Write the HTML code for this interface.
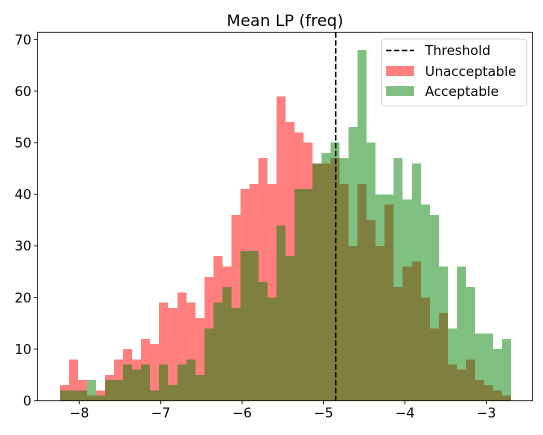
<!DOCTYPE html>
<html><head><meta charset="utf-8"><style>
html,body{margin:0;padding:0;background:#fff;}
svg{display:block;font-family:"DejaVu Sans","Liberation Sans",sans-serif;}
#bars rect{shape-rendering:crispEdges;}
</style></head><body>
<svg id="chart" width="543" height="435" viewBox="0 0 543 435" xmlns="http://www.w3.org/2000/svg">
<text x="285" y="26" font-size="16" text-anchor="middle" fill="#000">Mean LP (freq)</text>
<g id="bars"></g>
<g id="axes"></g>
</svg>
<script>
const binStart = -8.237;
const binWidth = 0.1108;
const unacceptable = [3,8,4,1,2,5,8,10,8,12,11,19,18,21,19,16,24,28,26,36,41,42,47,42,59,54,52,50,46,46,47,42,30,42,35,30,38,22,26,27,20,14,17,7,6,8,4,3,2,1];
const acceptable = [2,2,2,4,1,4,4,7,6,7,2,7,3,7,8,5,14,19,22,18,29,29,23,20,34,28,41,41,46,48,50,47,53,68,50,40,40,47,39,46,38,36,26,14,26,22,13,13,10,12];
const threshold = -4.85;
const xTicks = [-8,-7,-6,-5,-4,-3];
const yTicks = [0,10,20,30,40,50,60,70];

const L=37.5,R=532.5,T=32.3,B=400.7;
const X = v => 79.3 + (v + 8) * 81.4;
const Y = v => B - v * 5.16;
const NS="http://www.w3.org/2000/svg";
function mk(tag, attrs, parent){const e=document.createElementNS(NS,tag);for(const k in attrs)e.setAttribute(k,attrs[k]);parent.appendChild(e);return e;}
const bars=document.getElementById('bars'), axes=document.getElementById('axes');

unacceptable.forEach((h,i)=>{
  const x0=X(binStart+i*binWidth), x1=X(binStart+(i+1)*binWidth);
  const r=mk('rect',{x:x0,y:Y(h),width:x1-x0,height:B-Y(h),fill:'#ff0000','fill-opacity':0.5},bars);
  
  
});
acceptable.forEach((h,i)=>{
  const x0=X(binStart+i*binWidth), x1=X(binStart+(i+1)*binWidth);
  const r=mk('rect',{x:x0,y:Y(h),width:x1-x0,height:B-Y(h),fill:'#008000','fill-opacity':0.5},bars);
  
  
});
const th=mk('line',{x1:X(threshold),x2:X(threshold),y1:T,y2:B,stroke:'#000','stroke-width':1.5,'stroke-dasharray':'5.5,2.4'},bars);



const frame=mk('rect',{x:L,y:T,width:R-L,height:B-T,fill:'none',stroke:'#000','stroke-width':0.8},axes);



xTicks.forEach(v=>{
  mk('line',{x1:X(v),x2:X(v),y1:B,y2:B+3.5,stroke:'#000','stroke-width':0.8},axes);
  const t=mk('text',{x:X(v),y:B+17,'font-size':13.3,'text-anchor':'middle',fill:'#000'},axes);
  t.textContent='\u2212'+Math.abs(v);
  
  
});
yTicks.forEach(v=>{
  mk('line',{x1:L,x2:L-3.5,y1:Y(v),y2:Y(v),stroke:'#000','stroke-width':0.8},axes);
  const t=mk('text',{x:L-6,y:Y(v)+4.8,'font-size':13.3,'text-anchor':'end',fill:'#000'},axes);
  t.textContent=v;
  
  
});

// legend
const lg=mk('g',{},axes);


mk('rect',{x:381.7,y:39,width:145,height:67,rx:2,fill:'#fff','fill-opacity':0.8,stroke:'#ccc','stroke-width':0.8},lg);
mk('line',{x1:386,x2:414,y1:50.5,y2:50.5,stroke:'#000','stroke-width':1.5,'stroke-dasharray':'5.5,2.4'},lg);
mk('rect',{x:386,y:66,width:28,height:10,fill:'#ff0000','fill-opacity':0.5},lg);
mk('rect',{x:386,y:86,width:28,height:10,fill:'#008000','fill-opacity':0.5},lg);
[['Threshold',55],['Unacceptable',76],['Acceptable',96]].forEach(([s,y])=>{
  const t=mk('text',{x:425,y:y,'font-size':13.3,fill:'#000'},lg);
  t.textContent=s;
  
  
});
</script>
</body></html>
